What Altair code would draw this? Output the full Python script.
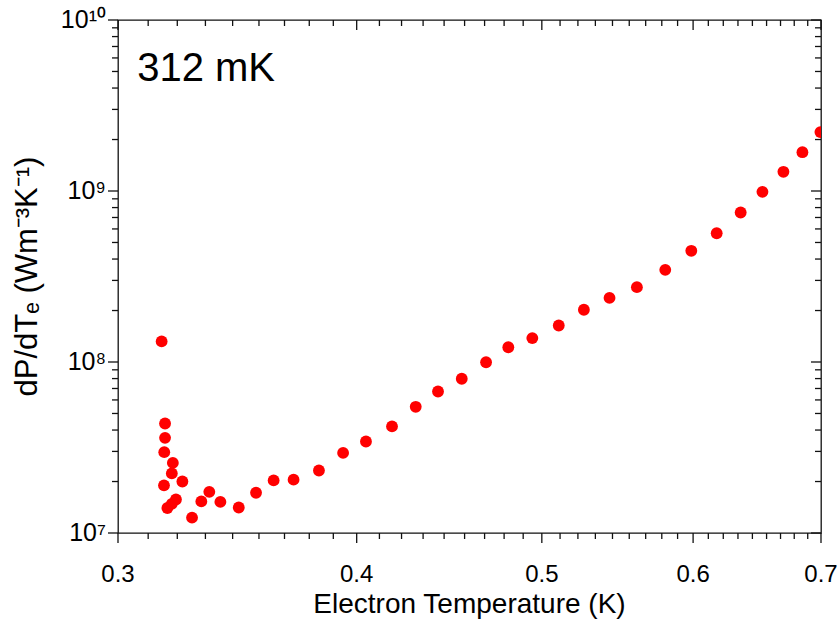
import altair as alt
import pandas as pd

# Electron temperature (K) and differential heat-flow dP/dT_e (W m^-3 K^-1)
temperature = [0.3162, 0.3175, 0.3175, 0.3172, 0.3205, 0.3201, 0.3242, 0.3171,
               0.3217, 0.3201, 0.3184, 0.3280, 0.3317, 0.3349, 0.3394, 0.3470,
               0.3543, 0.3619, 0.3707, 0.3822, 0.3935, 0.4045, 0.4174, 0.4295,
               0.4412, 0.4540, 0.4675, 0.4802, 0.4943, 0.5103, 0.5260, 0.5425,
               0.5607, 0.5802, 0.5987, 0.6173, 0.6354, 0.6523, 0.6690, 0.6845,
               0.6995]
dpdt = [1.32e8, 4.37e7, 3.60e7, 2.97e7, 2.57e7, 2.23e7, 2.00e7, 1.90e7,
        1.57e7, 1.48e7, 1.40e7, 1.23e7, 1.53e7, 1.74e7, 1.52e7, 1.41e7,
        1.72e7, 2.03e7, 2.05e7, 2.32e7, 2.94e7, 3.43e7, 4.20e7, 5.47e7,
        6.72e7, 7.98e7, 9.97e7, 1.22e8, 1.38e8, 1.635e8, 2.02e8, 2.37e8,
        2.74e8, 3.46e8, 4.47e8, 5.66e8, 7.49e8, 9.89e8, 1.295e9, 1.686e9,
        2.21e9]

# Axis ticks and their labels
x_major = [0.3, 0.4, 0.5, 0.6, 0.7]
x_major_text = ["0.3", "0.4", "0.5", "0.6", "0.7"]
x_minor = [round(lo + k * 0.1 / 9, 6) for lo in x_major[:-1] for k in range(1, 9)]
y_major = [1e7, 1e8, 1e9, 1e10]
y_major_text = ["10⁷", "10⁸", "10⁹", "10¹⁰"]
y_minor = [m * 10.0 ** e for e in (7, 8, 9) for m in range(2, 10)]

x_title = ["Electron Temperature (K)"]
y_title = ["dP/dTₑ (Wm⁻³K⁻¹)"]

# In-plot label
note_text = ["312 mK"]
note_x = [0.307]
note_y = [4.42e9]

FONT = "Liberation Sans"
INK = "#111111"
W, H = 703, 513          # plot area
MAJOR, MINOR = 10, 6     # tick lengths
LW = 1.3                 # line weight of frame and ticks

df = pd.DataFrame({"T": temperature, "G": dpdt})

x_scale = alt.Scale(type="log", domain=[0.3, 0.7], nice=False)
y_scale = alt.Scale(type="log", domain=[1e7, 1e10], nice=False)
X = alt.X("T:Q", scale=x_scale, axis=None)
Y = alt.Y("G:Q", scale=y_scale, axis=None)


def x_ticks(values, length, centre):
    """Vertical tick marks on a horizontal frame edge, placed through the x scale."""
    return alt.Chart(pd.DataFrame({"T": values})).mark_tick(
        color=INK, opacity=1, size=length, thickness=LW
    ).encode(x=X, y=alt.value(centre))


def y_ticks(values, length, centre):
    """Horizontal tick marks on a vertical frame edge, placed through the y scale."""
    return alt.Chart(pd.DataFrame({"G": values})).mark_tick(
        color=INK, opacity=1, size=length, thickness=LW
    ).encode(y=Y, x=alt.value(centre))


ticks = [
    # bottom and left: outward
    x_ticks(x_major, MAJOR, H + MAJOR / 2),
    x_ticks(x_minor, MINOR, H + MINOR / 2),
    y_ticks(y_major, MAJOR, -MAJOR / 2),
    y_ticks(y_minor, MINOR, -MINOR / 2),
    # top and right: inward
    x_ticks(x_major, MAJOR, MAJOR / 2),
    x_ticks(x_minor, MINOR, MINOR / 2),
    y_ticks(y_major, MAJOR, W - MAJOR / 2),
    y_ticks(y_minor, MINOR, W - MINOR / 2),
]

x_labels = alt.Chart(pd.DataFrame({"T": x_major, "label": x_major_text})).mark_text(
    font=FONT, fontSize=24, color="black", align="center", baseline="middle"
).encode(x=X, y=alt.value(H + 42), text="label:N")

y_labels = alt.Chart(pd.DataFrame({"G": y_major, "label": y_major_text})).mark_text(
    font=FONT, fontSize=25, color="black", align="right", baseline="middle"
).encode(y=Y, x=alt.value(-12), text="label:N")

x_title_mark = alt.Chart(pd.DataFrame({"label": x_title})).mark_text(
    font=FONT, fontSize=28, color="black", align="center", baseline="middle"
).encode(x=alt.value(W / 2), y=alt.value(H + 72), text="label:N")

y_title_mark = alt.Chart(pd.DataFrame({"label": y_title})).mark_text(
    font=FONT, fontSize=31, color="black", align="center", baseline="middle",
    angle=270,
).encode(x=alt.value(-90), y=alt.value(H / 2), text="label:N")

points = alt.Chart(df).mark_circle(
    size=140, color="#ff0000", opacity=1, clip=True
).encode(x=X, y=Y)

note = alt.Chart(pd.DataFrame({"T": note_x, "G": note_y, "text": note_text})).mark_text(
    align="left", baseline="alphabetic", fontSize=40, font=FONT, color="black"
).encode(x=X, y=Y, text="text:N")

chart = (
    alt.layer(*ticks, points, note, x_labels, y_labels, x_title_mark, y_title_mark)
    .properties(
        width=W,
        height=H,
        autosize=alt.AutoSizeParams(type="none"),
        padding={"left": 118, "top": 20, "right": 16, "bottom": 90},
        background="white",
    )
    .configure_view(stroke=INK, strokeWidth=LW)
)

chart.save("out.html", embed_options={"renderer": "svg", "actions": False})
